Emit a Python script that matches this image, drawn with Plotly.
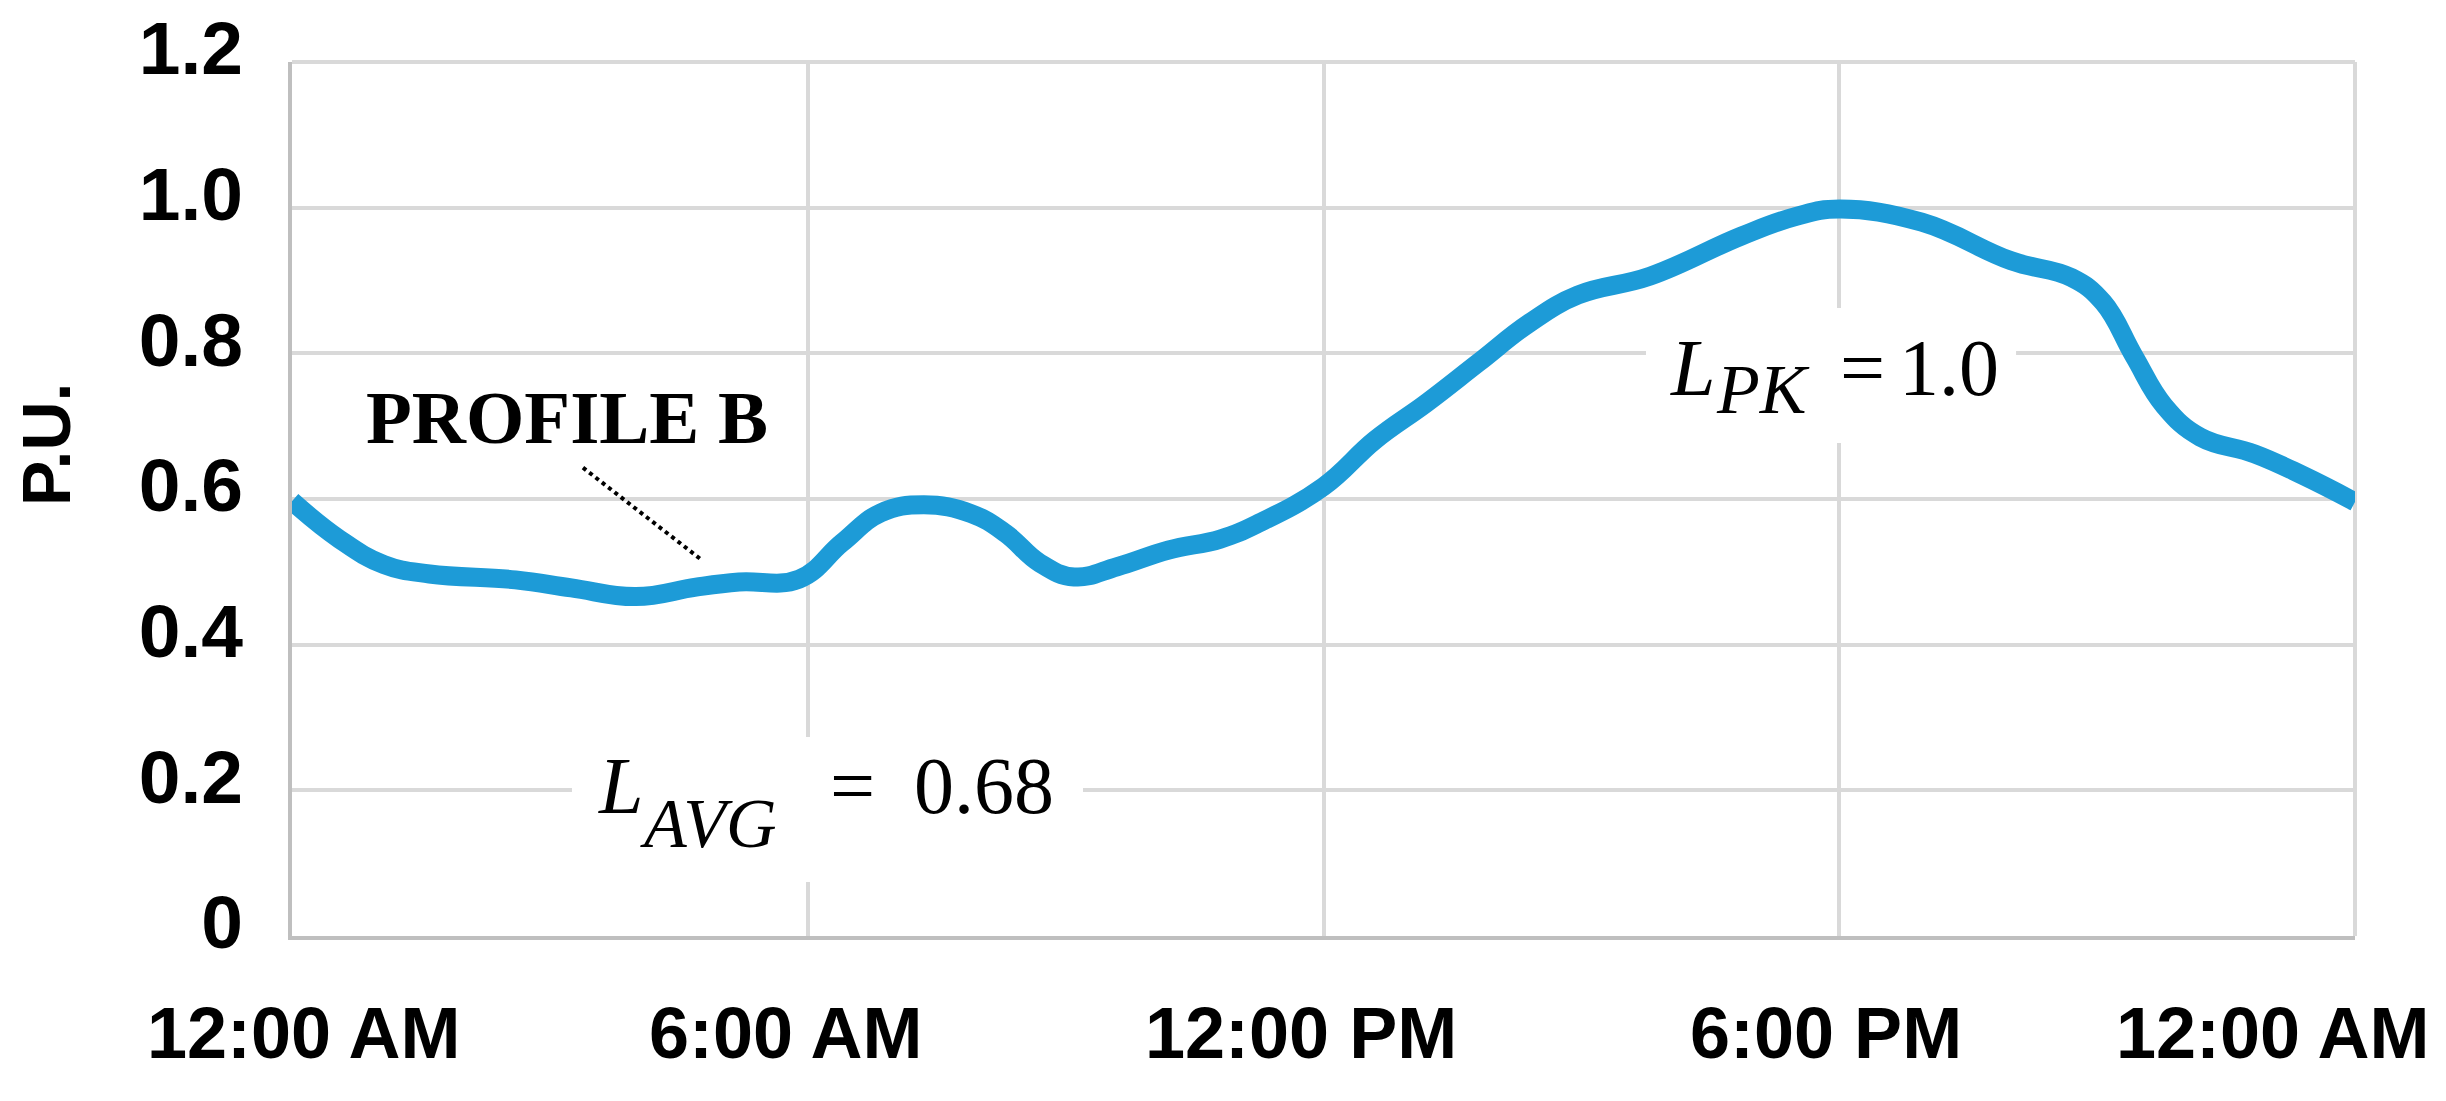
import plotly.graph_objects as go

# ---- data -------------------------------------------------------------
hours = [0, 0.55, 1.07, 1.6, 2.6, 3.25, 4.0, 4.7, 5.2, 5.9, 6.4, 6.85, 7.35,
         7.9, 8.3, 8.7, 9.1, 9.6, 10.2, 10.8, 11.25, 12.0, 12.6, 13.2, 13.8,
         14.4, 14.96, 15.8, 16.86, 17.5, 18.0, 18.96, 20.0, 20.7, 21.07,
         21.43, 21.78, 22.2, 22.83, 23.4, 24.0]
load_pu = [0.597, 0.545, 0.510, 0.497, 0.489, 0.478, 0.466, 0.479, 0.486,
           0.490, 0.540, 0.581, 0.592, 0.580, 0.553, 0.512, 0.493, 0.507,
           0.530, 0.545, 0.567, 0.617, 0.681, 0.732, 0.787, 0.842, 0.880,
           0.906, 0.961, 0.988, 0.998, 0.980, 0.927, 0.904, 0.870, 0.796,
           0.728, 0.685, 0.662, 0.632, 0.596]

x_tick_vals = [0, 6, 12, 18, 24]
x_tick_text = ["12:00 AM", "6:00 AM", "12:00 PM", "6:00 PM", "12:00 AM"]
y_tick_vals = [0, 0.2, 0.4, 0.6, 0.8, 1.0, 1.2]
y_tick_text = ["0", "0.2", "0.4", "0.6", "0.8", "1.0", "1.2"]

# ---- styles / positions ----------------------------------------------
x_label_shift = [11, -22, -23, -13, -83]
LINE_COLOR = "#1D9BD7"
GRID = "#d9d9d9"
AXIS = "#bfbfbf"
SANS = "Liberation Sans, Arial, sans-serif"
SERIF = "Liberation Serif, Times New Roman, serif"

fig = go.Figure()
fig.add_trace(go.Scatter(
    x=hours, y=load_pu, mode="lines",
    line=dict(color=LINE_COLOR, width=19, shape="spline", smoothing=1.2),
    hoverinfo="skip", showlegend=False))

annotations = []
# x tick labels
for v, t, dx in zip(x_tick_vals, x_tick_text, x_label_shift):
    annotations.append(dict(x=v, y=0, xref="x", yref="paper", text=t,
                            showarrow=False, xanchor="center", yanchor="middle",
                            xshift=dx, yshift=-97,
                            font=dict(family=SANS, size=72, color="black",
                                      weight="bold")))
# y axis title
annotations.append(dict(x=0, y=0.674, xref="paper", yref="y", text="P.U.",
                        showarrow=False, textangle=-90, xshift=-246,
                        xanchor="center", yanchor="middle",
                        font=dict(family=SANS, size=68, color="black",
                                  weight="bold")))
# PROFILE B
annotations.append(dict(x=3.199, y=0.7116, xref="x", yref="y", text="PROFILE B",
                        showarrow=False, xanchor="center", yanchor="middle",
                        font=dict(family=SERIF, size=75, color="black",
                                  weight="bold")))


def eq_label(parts):
    for (x, y, txt, size, italic) in parts:
        annotations.append(dict(
            x=x, y=y, xref="x", yref="y",
            text=("<i>%s</i>" % txt) if italic else txt,
            showarrow=False, xanchor="center", yanchor="middle",
            font=dict(family=SERIF, size=size, color="black")))


# L_AVG = 0.68
eq_label([(3.833, 0.206, "L", 80, True),
          (4.840, 0.1546, "AVG", 70, True),
          (6.521, 0.206, "=", 80, False),
          (8.051, 0.206, "0.68", 80, False)])
# L_PK = 1.0
eq_label([(16.293, 0.7799, "L", 80, True),
          (17.114, 0.7505, "PK", 70, True),
          (18.271, 0.7799, "=", 80, False),
          (19.277, 0.7799, "1.0", 80, False)])

shapes = [
    # outer border (top & right) in grid colour
    dict(type="line", xref="paper", yref="paper", x0=0, x1=1, y0=1, y1=1,
         line=dict(color=GRID, width=4), layer="below"),
    dict(type="line", xref="paper", yref="paper", x0=1, x1=1, y0=0, y1=1,
         line=dict(color=GRID, width=4), layer="below"),
    # white boxes behind equations (break the grid)
    dict(type="rect", xref="x", yref="y", x0=3.257, x1=9.202, y0=0.0741,
         y1=0.2732, fillcolor="white", line=dict(width=0), layer="above"),
    dict(type="rect", xref="x", yref="y", x0=15.752, x1=20.057, y0=0.6769,
         y1=0.8623, fillcolor="white", line=dict(width=0), layer="above"),
    # dotted leader line for PROFILE B
    dict(type="line", xref="x", yref="y", x0=3.385, y0=0.643, x1=4.78,
         y1=0.515, line=dict(color="black", width=4, dash="dot"),
         layer="above"),
]

fig.update_layout(
    width=2446, height=1101,
    margin=dict(l=292, r=91, t=62, b=165, pad=0, autoexpand=False),
    paper_bgcolor="white", plot_bgcolor="white",
    showlegend=False,
    annotations=annotations, shapes=shapes,
    xaxis=dict(range=[0, 24], tickvals=x_tick_vals, showticklabels=False,
               showgrid=True, gridcolor=GRID, gridwidth=4, zeroline=False,
               showline=True, linecolor=AXIS, linewidth=4, ticks="",
               automargin=False, layer="below traces", fixedrange=True),
    yaxis=dict(range=[0, 1.2], tickvals=y_tick_vals, ticktext=y_tick_text,
               showgrid=True, gridcolor=GRID, gridwidth=4, zeroline=False,
               showline=True, linecolor=AXIS, linewidth=4, ticks="",
               ticklabelstandoff=30, ticklabelshift=-14, automargin=False,
               layer="below traces", fixedrange=True,
               tickfont=dict(family=SANS, size=75, color="black",
                             weight="bold")),
)

fig.write_html("out.html",
               post_script="document.body.style.margin='0';"
                           "document.body.style.overflow='hidden';",
               config={"displayModeBar": False})
